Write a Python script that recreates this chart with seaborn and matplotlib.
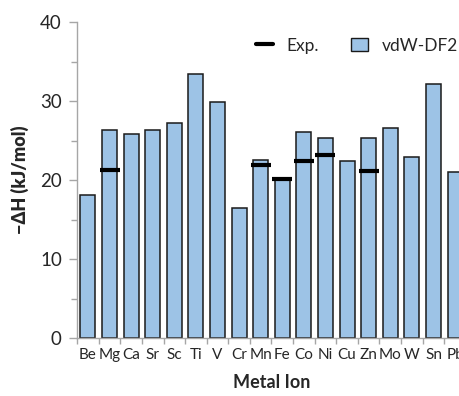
import numpy as np
import pandas as pd
import matplotlib
matplotlib.use("Agg")
import matplotlib.pyplot as plt
import matplotlib.ticker as mticker
from matplotlib.lines import Line2D
from matplotlib.patches import Patch
import seaborn as sns

metals = ["Be", "Mg", "Ca", "Sr", "Sc", "Ti", "V", "Cr", "Mn", "Fe",
          "Co", "Ni", "Cu", "Zn", "Mo", "W", "Sn", "Pb"]
vdw_df2 = [18.1, 26.4, 25.9, 26.3, 27.2, 33.4, 29.9, 16.5, 22.5, 20.1,
           26.1, 25.4, 22.4, 25.4, 26.6, 22.9, 32.2, 21.0]
exp_metals = ["Mg", "Mn", "Fe", "Co", "Ni", "Zn"]
exp_vals = [21.3, 21.9, 20.1, 22.4, 23.2, 21.1]

sns.set_theme(style="white")
plt.rcParams["font.family"] = ["Lato", "DejaVu Sans"]

df = pd.DataFrame({"metal": metals, "dH": vdw_df2})

fig = plt.figure(figsize=(4.59, 3.96), dpi=100)
ax = fig.add_axes([0.168, 0.146, 0.847, 0.798])

sns.barplot(data=df, x="metal", y="dH", order=metals, color="#9dc3e6",
            saturation=1, width=0.7, edgecolor="#1a1a1a", linewidth=1.1, ax=ax)

exp_x = [metals.index(m) for m in exp_metals]
ax.plot(exp_x, exp_vals, linestyle="none", marker="_", markersize=14,
        markeredgewidth=3, color="black", zorder=5)

ax.set_xlim(-0.5, len(metals) - 0.5)
ax.set_ylim(0, 40)
ax.yaxis.set_major_locator(mticker.MultipleLocator(10))
ax.yaxis.set_minor_locator(mticker.MultipleLocator(5))
ax.set_xticks(np.arange(len(metals)))
ax.set_xticklabels(metals, fontsize=11)
ax.xaxis.set_minor_locator(mticker.FixedLocator(np.arange(-0.5, len(metals), 1)))

for s in ["top", "right"]:
    ax.spines[s].set_visible(False)
for s in ["left", "bottom"]:
    ax.spines[s].set_color("#a6a6a6")
    ax.spines[s].set_linewidth(1)

ax.tick_params(axis="y", which="major", direction="out", length=6, color="#a6a6a6",
               width=1, left=True, labelsize=13.5, pad=5)
ax.tick_params(axis="y", which="minor", direction="out", length=4, color="#a6a6a6",
               width=1, left=True)
ax.tick_params(axis="x", which="major", length=0, pad=7)
ax.tick_params(axis="x", which="minor", direction="out", length=4, color="#a6a6a6",
               width=1, bottom=True)

ax.set_xlabel("Metal Ion", fontsize=13, fontweight="bold", labelpad=9)
ax.set_ylabel("\u2212\u0394H (kJ/mol)", fontsize=13, fontweight="heavy", labelpad=8)

handles = [Line2D([0], [0], color="black", linewidth=3),
           Patch(facecolor="#9dc3e6", edgecolor="#1a1a1a", linewidth=1)]
ax.legend(handles, ["Exp.", "vdW-DF2"], ncol=2, frameon=False, fontsize=12.5,
          loc="upper right", bbox_to_anchor=(1.02, 1.0), handlelength=1.0,
          handleheight=0.8, columnspacing=1.8, handletextpad=0.8)

fig.savefig("out.png", dpi=100)
